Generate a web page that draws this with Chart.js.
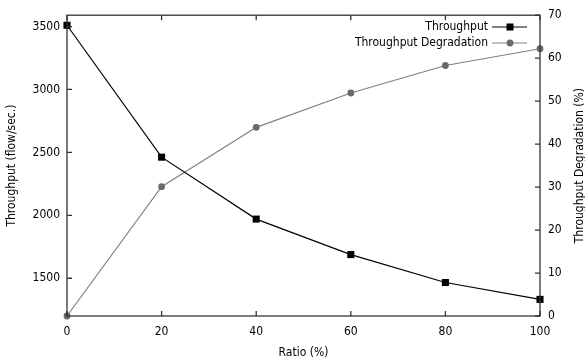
<!DOCTYPE html>
<html>
<head>
<meta charset="utf-8">
<script src="https://cdn.jsdelivr.net/npm/chart.js@4"></script>
<style>
  html, body { margin: 0; padding: 0; background: #fff; }
  #wrap { width: 585px; height: 364px; }
</style>
</head>
<body>
<div id="wrap"><canvas id="chart" width="585" height="364"></canvas></div>
<script>
// values
const ratios = [0, 20, 40, 60, 80, 100];
const throughput = [3510, 2462, 1970, 1688, 1466, 1332];
const degradation = [0, 30.1, 43.9, 51.9, 58.3, 62.2];

const xTicks = [0, 20, 40, 60, 80, 100];
const yTicks = [1500, 2000, 2500, 3000, 3500];
const y2Ticks = [0, 10, 20, 30, 40, 50, 60, 70];

const FONT = '"DejaVu Sans Condensed", "DejaVu Sans", sans-serif';

// gnuplot-like frame, inward ticks, titles and key
const framePlugin = {
  id: 'frame',
  afterDraw(chart) {
    const ctx = chart.ctx;
    const a = chart.chartArea;
    const sx = chart.scales.x, sy = chart.scales.y, sy2 = chart.scales.y2;
    ctx.save();
    ctx.strokeStyle = '#333';
    ctx.lineWidth = 1.3;
    ctx.strokeRect(a.left, a.top, a.right - a.left, a.bottom - a.top);

    ctx.beginPath();
    xTicks.forEach(v => {
      const px = sx.getPixelForValue(v);
      ctx.moveTo(px, a.bottom); ctx.lineTo(px, a.bottom - 5);
      ctx.moveTo(px, a.top); ctx.lineTo(px, a.top + 5);
    });
    yTicks.forEach(v => {
      const py = sy.getPixelForValue(v);
      ctx.moveTo(a.left, py); ctx.lineTo(a.left + 5, py);
    });
    y2Ticks.forEach(v => {
      const py = sy2.getPixelForValue(v);
      ctx.moveTo(a.right, py); ctx.lineTo(a.right - 5, py);
    });
    ctx.stroke();

    // axis titles
    ctx.fillStyle = '#000';
    ctx.font = '12px ' + FONT;
    ctx.textAlign = 'center';
    ctx.textBaseline = 'middle';
    ctx.fillText('Ratio (%)', (a.left + a.right) / 2, 353);

    const midY = (a.top + a.bottom) / 2;
    ctx.save();
    ctx.translate(12, midY);
    ctx.rotate(-Math.PI / 2);
    ctx.fillText('Throughput (flow/sec.)', 0, 0);
    ctx.restore();

    ctx.save();
    ctx.translate(580, midY);
    ctx.rotate(-Math.PI / 2);
    ctx.fillText('Throughput Degradation (%)', 0, 0);
    ctx.restore();

    // key
    ctx.textAlign = 'right';
    chart.data.datasets.forEach((ds, i) => {
      const y = 27 + i * 16;
      ctx.fillStyle = '#000';
      ctx.fillText(ds.label, 488, y);
      ctx.strokeStyle = ds.borderColor;
      ctx.lineWidth = ds.borderWidth;
      ctx.beginPath();
      ctx.moveTo(492, y); ctx.lineTo(527, y);
      ctx.stroke();
      ctx.fillStyle = ds.pointBackgroundColor;
      ctx.beginPath();
      if (ds.pointStyle === 'rect') {
        ctx.rect(510 - 3.5, y - 3.5, 7, 7);
      } else {
        ctx.arc(510, y, ds.pointRadius, 0, Math.PI * 2);
      }
      ctx.fill();
    });
    ctx.restore();
  }
};

const plain = v => String(v);

new Chart(document.getElementById('chart'), {
  type: 'line',
  data: {
    datasets: [{
      label: 'Throughput',
      data: ratios.map((r, i) => ({ x: r, y: throughput[i] })),
      yAxisID: 'y',
      borderColor: '#000',
      borderWidth: 1.2,
      pointStyle: 'rect',
      pointRadius: 5,
      pointBackgroundColor: '#000',
      pointBorderWidth: 0,
      tension: 0
    }, {
      label: 'Throughput Degradation',
      data: ratios.map((r, i) => ({ x: r, y: degradation[i] })),
      yAxisID: 'y2',
      borderColor: '#808080',
      borderWidth: 1.2,
      pointStyle: 'circle',
      pointRadius: 3.4,
      pointBackgroundColor: '#6a6a6a',
      pointBorderWidth: 0,
      tension: 0
    }]
  },
  options: {
    responsive: false,
    animation: false,
    clip: false,
    layout: { padding: { top: 14, left: 0, right: 0, bottom: 0 } },
    plugins: {
      legend: { display: false },
      tooltip: { enabled: false }
    },
    scales: {
      x: {
        type: 'linear',
        min: 0,
        max: 100,
        afterBuildTicks: s => { s.ticks = xTicks.map(v => ({ value: v })); },
        afterFit: s => { s.height = 48; },
        grid: { display: false, drawTicks: false },
        border: { display: false },
        ticks: { color: '#000', padding: 9, callback: plain, font: { family: FONT, size: 12 } }
      },
      y: {
        position: 'left',
        min: 1200,
        max: 3590,
        afterBuildTicks: s => { s.ticks = yTicks.map(v => ({ value: v })); },
        afterFit: s => { s.width = 67; },
        grid: { display: false, drawTicks: false },
        border: { display: false },
        ticks: { color: '#000', padding: 7, callback: plain, font: { family: FONT, size: 12 } }
      },
      y2: {
        position: 'right',
        min: 0,
        max: 70,
        afterBuildTicks: s => { s.ticks = y2Ticks.map(v => ({ value: v })); },
        afterFit: s => { s.width = 45; },
        grid: { display: false, drawTicks: false },
        border: { display: false },
        ticks: { color: '#000', padding: 8, callback: plain, font: { family: FONT, size: 12 } }
      }
    }
  },
  plugins: [framePlugin]
});
</script>
</body>
</html>
